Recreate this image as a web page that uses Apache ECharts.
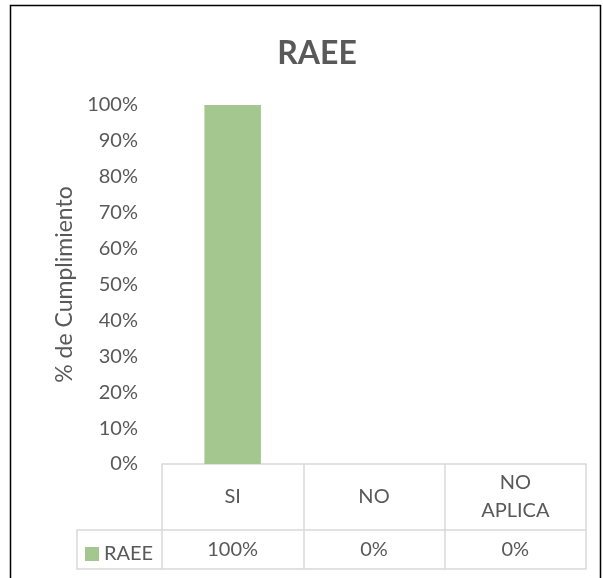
<!DOCTYPE html>
<html>
<head>
<meta charset="utf-8">
<script src="https://cdn.jsdelivr.net/npm/echarts@6/dist/echarts.min.js"></script>
<style>
  html, body { margin: 0; padding: 0; background: #fff; }
  #chart { width: 603px; height: 578px; }
</style>
</head>
<body>
<div id="chart"></div>
<script>
// data
const categories = ['SI', 'NO', 'NO\nAPLICA'];
const raee = [1, 0, 0];
const seriesName = 'RAEE';

const FONT = 'Lato, "Open Sans", sans-serif';
const TXT = '#595959';
const LINE = '#d9d9d9';

// plot area
const gLeft = 162, gRight = 586, gTop = 105, gBottom = 464;
const row1 = 66, row2 = 39;   // table rows below the axis
const legendLeft = 77;

const pct = v => Math.round(v * 100) + '%';

const chart = echarts.init(document.getElementById('chart'));
chart.setOption({
    animation: false,
    title: {
        text: 'RAEE',
        left: 312,
        top: 33,
        textAlign: 'center',
        textStyle: { fontFamily: FONT, fontSize: 32, fontWeight: 'bold', color: TXT }
    },
    grid: {
        left: gLeft,
        right: 603 - gRight,
        top: gTop,
        bottom: 578 - gBottom
    },
    legend: {
        left: 80,
        top: gBottom + row1 + 9,
        itemWidth: 14,
        itemHeight: 14,
        itemGap: 6,
        icon: 'rect',
        textStyle: { fontFamily: FONT, fontSize: 20, color: TXT, padding: [0, 0, 0, 0] },
        data: [seriesName]
    },
    xAxis: [{
        type: 'category',
        data: categories,
        position: 'bottom',
        axisLine: { lineStyle: { color: LINE, width: 1.5 } },
        axisTick: { show: true, interval: 0, length: row1 + row2, lineStyle: { color: LINE, width: 1.5 } },
        axisLabel: {
            interval: 0, margin: row1 / 2, verticalAlign: 'middle', lineHeight: 28,
            fontFamily: FONT, fontSize: 20, color: TXT
        },
        splitLine: { show: false }
    }, {
        type: 'category',
        data: categories,
        position: 'bottom',
        offset: row1,
        axisLine: { lineStyle: { color: LINE, width: 1.5 } },
        axisTick: { show: false },
        axisLabel: {
            interval: 0, margin: row2 / 2, verticalAlign: 'middle',
            fontFamily: FONT, fontSize: 20, color: TXT,
            formatter: (v, i) => pct(raee[i])
        }
    }, {
        type: 'category',
        data: categories,
        position: 'bottom',
        offset: row1 + row2,
        axisLine: { lineStyle: { color: LINE, width: 1.5 } },
        axisTick: { show: false },
        axisLabel: { show: false }
    }],
    yAxis: {
        type: 'value',
        min: 0,
        max: 1,
        interval: 0.1,
        name: '% de Cumplimiento',
        nameLocation: 'middle',
        nameGap: 86,
        nameRotate: 90,
        nameTextStyle: { fontFamily: FONT, fontSize: 23, color: TXT },
        axisLine: { show: false },
        axisTick: { show: false },
        splitLine: { show: false },
        axisLabel: { margin: 24, fontFamily: FONT, fontSize: 20, color: TXT, formatter: pct }
    },
    series: [{
        name: seriesName,
        type: 'bar',
        data: raee,
        barCategoryGap: '60%',
        itemStyle: { color: '#A3C78E' }
    }],
    graphic: [
        // outer chart frame
        { type: 'rect', shape: { x: 10.5, y: 5.5, width: 590, height: 600 },
          style: { fill: 'none', stroke: '#000', lineWidth: 1.5 }, silent: true },
        // legend cell of the data table
        { type: 'polyline', shape: { points: [
            [gLeft, gBottom + row1], [legendLeft, gBottom + row1],
            [legendLeft, gBottom + row1 + row2], [gLeft, gBottom + row1 + row2]] },
          style: { fill: 'none', stroke: LINE, lineWidth: 1.5 }, silent: true }
    ]
});
</script>
</body>
</html>
